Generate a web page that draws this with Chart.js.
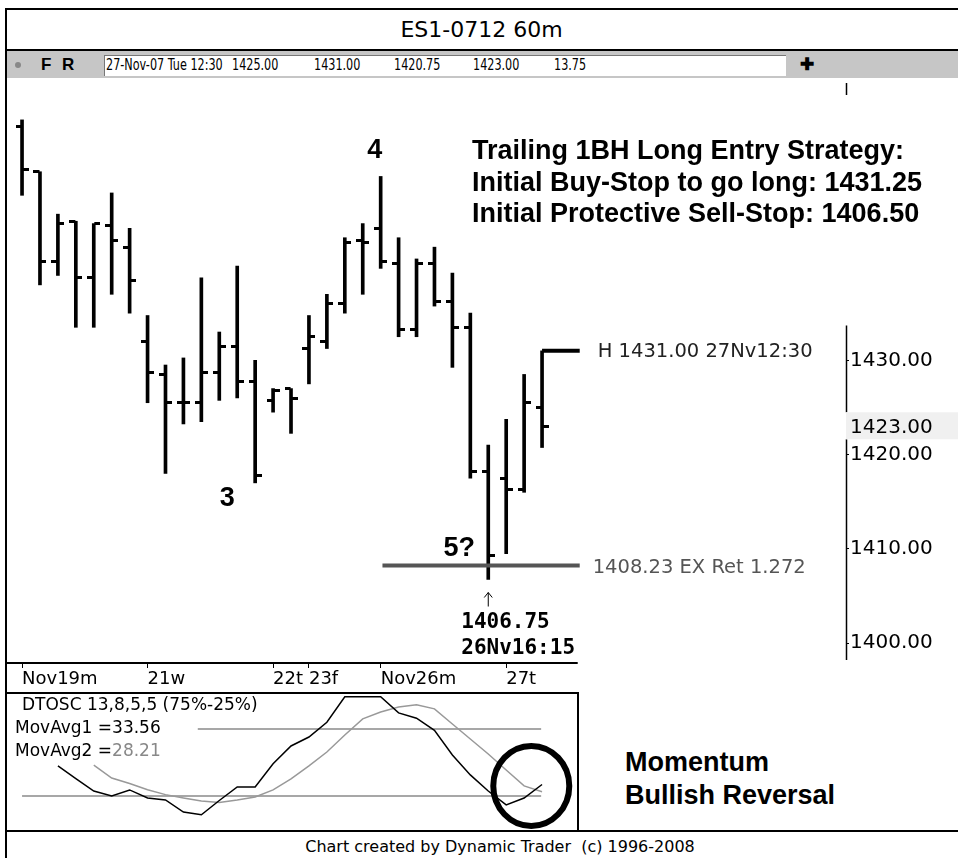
<!DOCTYPE html>
<html>
<head>
<meta charset="utf-8">
<script src="https://cdn.jsdelivr.net/npm/chart.js@4.4.1/dist/chart.umd.min.js"></script>
<style>
  html, body { margin: 0; padding: 0; background: #fff; }
  #page { position: relative; width: 958px; height: 858px; overflow: hidden; font-family: "DejaVu Sans", sans-serif; color: #000; }
  .abs { position: absolute; }
  #frameL { left: 5px; top: 8px; width: 2px; height: 850px; background: #000; }
  #frameT { left: 5px; top: 8px; width: 953px; height: 2px; background: #000; }
  #title { left: 5px; top: 10px; width: 953px; height: 39px; line-height: 39px; text-align: center; font-size: 22px; }
  #titleRule { left: 5px; top: 49px; width: 953px; height: 2px; background: #000; }
  #toolbar { left: 7px; top: 51px; width: 951px; height: 27px; background: #c6c6c6; }
  #readout { left: 104px; top: 55px; width: 681px; height: 20px; background: #fff; border-top: 1px solid #777; border-left: 1px solid #777; }
  .tb { top: 54px; font-size: 16px; line-height: 22px; white-space: nowrap; transform: scaleX(0.7); transform-origin: left center; }
  .tbBold { top: 54px; font-size: 17px; line-height: 22px; font-weight: bold; font-family: "Liberation Sans", sans-serif; }
  #dot { left: 15px; top: 62px; width: 6px; height: 6px; border-radius: 3px; background: #888; }
  #oscBox { left: 5px; top: 692px; width: 574px; height: 140px; border: 2px solid #000; box-sizing: border-box; }
  #footRule { left: 5px; top: 830px; width: 953px; height: 2px; background: #000; }
  #footer { left: 5px; top: 836px; width: 990px; text-align: center; font-size: 16px; line-height: 22px; }
  .note { font-family: "Liberation Sans", Arial, sans-serif; font-weight: bold; font-size: 27px; line-height: 33px; white-space: nowrap; }
  canvas { position: absolute; }
</style>
</head>
<body>
<div id="page">
  <div class="abs" id="title">ES1-0712 60m</div>
  <div class="abs" id="toolbar"></div>
  <div class="abs" id="readout"></div>
  <div class="abs" id="dot"></div>
  <div class="abs tbBold" style="left:41px">F</div>
  <div class="abs tbBold" style="left:62px">R</div>
  <div class="abs tbBold" style="left:800px">&#10010;</div>
  <div class="abs tb" id="rdDate" style="left:106px"></div>
  <div class="abs tb" id="rdOpen" style="left:232px"></div>
  <div class="abs tb" id="rdHigh" style="left:314px"></div>
  <div class="abs tb" id="rdLow" style="left:394px"></div>
  <div class="abs tb" id="rdClose" style="left:473px"></div>
  <div class="abs tb" id="rdRange" style="left:554px"></div>
  <div class="abs" id="frameT"></div>
  <div class="abs" id="titleRule"></div>

  <canvas id="price" width="958" height="614" style="left:0;top:78px"></canvas>

  <div class="abs" id="oscBox"></div>
  <canvas id="osc" width="570" height="136" style="left:7px;top:694px"></canvas>

  <div class="abs note" style="left:625px;top:746px">Momentum<br>Bullish Reversal</div>

  <div class="abs" id="footRule"></div>
  <div class="abs" id="footer">Chart created by Dynamic Trader&nbsp; (c) 1996-2008</div>
  <div class="abs" id="frameL"></div>
</div>

<script>
// ES 60-minute bars, 19-Nov-07 through 27-Nov-07 12:30
const barOpen  = [1454.75, 1450.00, 1440.50, 1444.75, 1438.75, 1444.25, 1442.00, 1432.00, 1428.50, 1425.50,
                  1425.50, 1428.75, 1431.50, 1427.75, 1425.75, 1427.00, 1431.25, 1432.00, 1436.00, 1442.75,
                  1444.00, 1440.25, 1433.25, 1440.25, 1436.25, 1433.50, 1418.25, 1417.50, 1416.25, 1425.00];
const barHigh  = [1455.50, 1450.00, 1445.50, 1444.75, 1444.50, 1447.75, 1444.00, 1434.75, 1429.50, 1430.25,
                  1438.75, 1433.00, 1440.00, 1430.00, 1427.00, 1427.00, 1434.75, 1437.00, 1443.00, 1444.50,
                  1449.50, 1443.00, 1440.75, 1442.00, 1439.25, 1435.00, 1421.00, 1423.75, 1428.50, 1431.00];
const barLow   = [1447.50, 1438.00, 1439.00, 1433.50, 1433.50, 1437.00, 1435.00, 1425.50, 1418.00, 1423.25,
                  1423.50, 1425.75, 1426.00, 1417.00, 1424.50, 1422.25, 1427.50, 1431.25, 1435.00, 1437.00,
                  1439.75, 1432.50, 1432.50, 1435.75, 1429.25, 1417.50, 1406.75, 1409.50, 1416.00, 1420.75];
const barClose = [1450.25, 1440.50, 1444.50, 1438.75, 1444.50, 1442.75, 1438.50, 1428.75, 1425.50, 1425.50,
                  1428.75, 1431.50, 1427.75, 1417.75, 1426.75, 1426.00, 1432.50, 1436.00, 1442.50, 1442.50,
                  1440.50, 1433.25, 1440.25, 1436.25, 1433.50, 1418.25, 1409.25, 1416.25, 1425.50, 1423.00];

const dateTicks  = [0, 7, 14, 16, 20, 27];
const dateLabels = ['Nov19m', '21w', '22t', '23f', 'Nov26m', '27t'];
const priceTicks = [1400, 1410, 1420, 1430];

const lastBarTime = '27-Nov-07 Tue 12:30';
const lastRange   = 13.75;
const swingHigh   = 1431.00;
const swingHighAt = '27Nv12:30';
const swingLow    = 1406.75;
const swingLowAt  = '26Nv16:15';
const extRet      = 1408.23;
const extRatio    = '1.272';
const waveNames   = ['3', '4', '5?'];
const strategyLines = [
  'Trailing 1BH Long Entry Strategy:',
  'Initial Buy-Stop to go long: 1431.25',
  'Initial Protective Sell-Stop: 1406.50'
];

// DTOSC 13,8,5,5 fast and slow lines, one value per bar
const oscFast = [null, null, 47.4, 38.0, 28.7, 25.0, 29.5, 23.5, 22.0, 13.0,
                 11.0, 21.6, 31.7, 31.7, 49.0, 62.3, 69.0, 80.0, 99.0, 99.0,
                 99.0, 87.0, 83.0, 74.0, 55.6, 40.7, 28.7, 18.3, 23.5, 33.56];
const oscSlow = [null, null, null, null, 48.0, 38.4, 34.3, 29.6, 26.0, 23.5,
                 21.3, 20.1, 22.0, 24.3, 29.5, 37.7, 47.4, 57.8, 70.5, 82.5,
                 87.7, 91.4, 93.0, 90.0, 78.7, 67.5, 56.3, 44.4, 32.5, 28.21];
const oscBands = [75, 25];

const n = barClose.length;
const last = n - 1;
const levelEnd = 31.1;   // horizontal levels run a couple of bars past the last one

// toolbar readout of the last bar
document.getElementById('rdDate').textContent = lastBarTime;
document.getElementById('rdOpen').textContent = barOpen[last].toFixed(2);
document.getElementById('rdHigh').textContent = barHigh[last].toFixed(2);
document.getElementById('rdLow').textContent = barLow[last].toFixed(2);
document.getElementById('rdClose').textContent = barClose[last].toFixed(2);
document.getElementById('rdRange').textContent = lastRange.toFixed(2);

// little open/close tick images, centred on the bar
function tickImage(side) {
  const c = document.createElement('canvas');
  c.width = 13; c.height = 3;
  const g = c.getContext('2d');
  g.fillStyle = '#000';
  g.fillRect(side === 'left' ? 0 : 7, 0, 6, 3);
  return c;
}
const openTick = tickImage('left');
const closeTick = tickImage('right');

const priceNotes = {
  id: 'priceNotes',
  afterDatasetsDraw(chart) {
    const { ctx, chartArea: a, scales: { x, y } } = chart;
    ctx.save();
    ctx.strokeStyle = '#000';

    // time axis line under the bars only
    ctx.lineWidth = 2;
    ctx.beginPath();
    ctx.moveTo(a.left, a.bottom + 1);
    ctx.lineTo(x.getPixelForValue(levelEnd) - 2, a.bottom + 1);
    ctx.stroke();

    // price axis line, broken by the last-price box
    const ax = Math.round(a.right) + 0.5;
    const yLast = y.getPixelForValue(barClose[last]);
    ctx.lineWidth = 1.5;
    ctx.beginPath();
    ctx.moveTo(ax, a.top - 2); ctx.lineTo(ax, a.top + 10);
    ctx.moveTo(ax, y.getPixelForValue(1433.7)); ctx.lineTo(ax, yLast - 14);
    ctx.moveTo(ax, yLast + 13); ctx.lineTo(ax, a.bottom - 2);
    ctx.stroke();

    ctx.fillStyle = '#f0f0f0';
    ctx.fillRect(a.right, yLast - 14, chart.width - a.right, 27);
    ctx.fillStyle = '#000';
    ctx.font = '20px "DejaVu Sans"';
    ctx.textBaseline = 'middle';
    ctx.textAlign = 'left';
    ctx.fillText(barClose[last].toFixed(2), a.right + 4, yLast + 1);

    // level labels
    const xe = x.getPixelForValue(levelEnd);
    ctx.font = '19.5px "DejaVu Sans"';
    ctx.fillStyle = '#222';
    ctx.fillText('H ' + swingHigh.toFixed(2) + ' ' + swingHighAt, xe + 18, y.getPixelForValue(swingHigh) + 1);
    ctx.fillStyle = '#555';
    ctx.fillText(extRet.toFixed(2) + ' EX Ret ' + extRatio, xe + 13, y.getPixelForValue(extRet) + 2);

    // arrow and stamp under the swing low
    const lowBar = barLow.indexOf(swingLow);
    const lx = x.getPixelForValue(lowBar);
    const ly = y.getPixelForValue(swingLow);
    ctx.strokeStyle = '#000';
    ctx.lineWidth = 1;
    ctx.beginPath();
    ctx.moveTo(lx, ly + 27); ctx.lineTo(lx, ly + 13);
    ctx.moveTo(lx - 4, ly + 18); ctx.lineTo(lx, ly + 13); ctx.lineTo(lx + 4, ly + 18);
    ctx.stroke();
    ctx.fillStyle = '#000';
    ctx.textBaseline = 'alphabetic';
    ctx.font = 'bold 21px "DejaVu Sans Mono"';
    ctx.fillText(swingLow.toFixed(2), lx - 27, ly + 48);
    ctx.fillText(swingLowAt, lx - 27, ly + 74);

    // wave counts
    ctx.font = 'bold 27px "Liberation Sans"';
    ctx.textAlign = 'center';
    ctx.fillText(waveNames[0], x.getPixelForValue(13) - 28, y.getPixelForValue(barLow[13]) + 23);
    ctx.fillText(waveNames[1], x.getPixelForValue(20) - 6, y.getPixelForValue(barHigh[20]) - 18);
    ctx.fillText(waveNames[2], x.getPixelForValue(lowBar) - 29, ly - 24);

    // strategy box text
    ctx.textAlign = 'left';
    strategyLines.forEach((t, k) => ctx.fillText(t, 472, 81 + k * 31.5));
    ctx.restore();
  }
};

new Chart(document.getElementById('price'), {
  type: 'bar',
  data: {
    datasets: [
      {
        type: 'line',
        data: barOpen.map((v, i) => ({ x: i, y: v })),
        showLine: false, pointStyle: openTick, pointRadius: 3
      },
      {
        type: 'line',
        data: barClose.map((v, i) => ({ x: i, y: v })),
        showLine: false, pointStyle: closeTick, pointRadius: 3
      },
      {
        type: 'line',
        data: [{ x: last, y: swingHigh }, { x: levelEnd, y: swingHigh }],
        borderColor: '#000', borderWidth: 4, pointRadius: 0
      },
      {
        type: 'line',
        data: [{ x: 20.1, y: extRet }, { x: levelEnd, y: extRet }],
        borderColor: '#555', borderWidth: 4, pointRadius: 0
      },
      {
        data: barLow.map((v, i) => ({ x: i, y: [v, barHigh[i]] })),
        backgroundColor: '#000', barThickness: 3, grouped: false, borderWidth: 0
      }
    ]
  },
  options: {
    responsive: false,
    animation: false,
    events: [],
    layout: { padding: { left: 5, top: 7, right: 0, bottom: 0 } },
    plugins: { legend: { display: false }, tooltip: { enabled: false } },
    scales: {
      x: {
        type: 'linear', min: -0.95, max: 45.95, offset: false,
        grid: { drawOnChartArea: false, drawTicks: true, tickLength: 6, color: '#000', offset: false },
        border: { display: false },
        afterBuildTicks: s => { s.ticks = dateTicks.map(v => ({ value: v })); },
        afterFit: s => { s.height = 30; s.paddingLeft = 0; s.paddingRight = 0; },
        ticks: {
          autoSkip: false, maxRotation: 0, align: 'start', padding: 1, color: '#000',
          font: { family: 'DejaVu Sans', size: 18 },
          callback: v => dateLabels[dateTicks.indexOf(v)] || ''
        }
      },
      y: {
        position: 'right', min: 1398, max: 1459.2,
        grid: { drawOnChartArea: false, drawTicks: true, tickLength: 3, color: '#000' },
        border: { display: false },
        afterBuildTicks: s => { s.ticks = priceTicks.map(v => ({ value: v })); },
        afterFit: s => { s.width = 112; s.paddingTop = 0; s.paddingBottom = 0; },
        ticks: {
          padding: 1, color: '#000',
          font: { family: 'DejaVu Sans', size: 20 },
          callback: v => Number(v).toFixed(2)
        }
      }
    }
  },
  plugins: [priceNotes]
});

const oscNotes = {
  id: 'oscNotes',
  afterDatasetsDraw(chart) {
    const { ctx, scales: { x, y } } = chart;
    ctx.save();
    ctx.textBaseline = 'middle';
    ctx.font = '17px "DejaVu Sans"';
    ctx.fillStyle = '#000';
    ctx.fillText('DTOSC 13,8,5,5 (75%-25%)', 15, 12);
    const lbl1 = 'MovAvg1 =';
    const lbl2 = 'MovAvg2 =';
    ctx.fillText(lbl1 + oscFast[last].toFixed(2), 8, 35);
    ctx.fillText(lbl2, 8, 58);
    ctx.fillStyle = '#888';
    ctx.fillText(oscSlow[last].toFixed(2), 8 + ctx.measureText(lbl2).width, 58);

    // reversal ring around the last crossover
    ctx.strokeStyle = '#000';
    ctx.lineWidth = 6;
    ctx.beginPath();
    ctx.ellipse(x.getPixelForValue(28.4), y.getPixelForValue(32.5), 38, 40, 0, 0, Math.PI * 2);
    ctx.stroke();
    ctx.restore();
  }
};

new Chart(document.getElementById('osc'), {
  type: 'line',
  data: {
    datasets: [
      {
        data: oscFast.map((v, i) => ({ x: i, y: v })).filter(p => p.y !== null),
        borderColor: '#000', borderWidth: 1.5, pointRadius: 0
      },
      {
        data: oscSlow.map((v, i) => ({ x: i, y: v })).filter(p => p.y !== null),
        borderColor: '#999', borderWidth: 1.5, pointRadius: 0
      },
      {
        data: [{ x: 9.8, y: oscBands[0] }, { x: 28.95, y: oscBands[0] }],
        borderColor: '#8a8a8a', borderWidth: 1.5, pointRadius: 0
      },
      {
        data: [{ x: 0, y: oscBands[1] }, { x: 28.95, y: oscBands[1] }],
        borderColor: '#8a8a8a', borderWidth: 1.5, pointRadius: 0
      }
    ]
  },
  options: {
    responsive: false,
    animation: false,
    events: [],
    layout: { padding: 0 },
    plugins: { legend: { display: false }, tooltip: { enabled: false } },
    scales: {
      x: { type: 'linear', display: false, min: -0.84, max: 30.95 },
      y: { display: false, min: -0.4, max: 101.1 }
    }
  },
  plugins: [oscNotes]
});
</script>
</body>
</html>
